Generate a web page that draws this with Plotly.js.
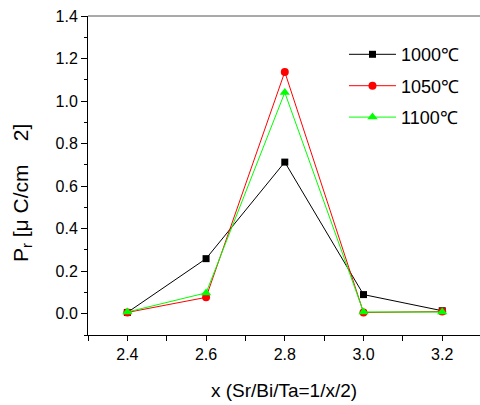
<!DOCTYPE html>
<html>
<head>
<meta charset="utf-8">
<script src="https://cdn.plot.ly/plotly-3.0.1.min.js"></script>
<style>
  html, body { margin: 0; padding: 0; background: #fff; }
  #chart { width: 480px; height: 405px; }
</style>
</head>
<body>
<div id="chart"></div>
<script>
// Sr/Bi/Ta = 1/x/2 composition
const xValues = [2.4, 2.6, 2.8, 3.0, 3.2];

// Remanent polarization Pr (μC/cm²) per sintering temperature
const pr1000 = [0.006, 0.259, 0.713, 0.090, 0.014];
const pr1050 = [0.006, 0.077, 1.137, 0.006, 0.010];
const pr1100 = [0.008, 0.098, 1.040, 0.008, 0.008];

const seriesNames = ['1000\u2103', '1050\u2103', '1100\u2103'];

const xTickVals = [2.4, 2.6, 2.8, 3.0, 3.2];
const xTickText = ['2.4', '2.6', '2.8', '3.0', '3.2'];
const yTickVals = [0, 0.2, 0.4, 0.6, 0.8, 1.0, 1.2, 1.4];
const yTickText = ['0.0', '0.2', '0.4', '0.6', '0.8', '1.0', '1.2', '1.4'];

const FONT = '"Liberation Sans", Arial, sans-serif';

const traces = [
  {
    x: xValues, y: pr1000, name: seriesNames[0], legendgroup: 'a',
    mode: 'lines+markers', type: 'scatter',
    line: { color: '#000000', width: 1 },
    marker: { symbol: 'square', size: 7, color: '#000000' }
  },
  {
    x: xValues, y: pr1050, name: seriesNames[1], legendgroup: 'b',
    mode: 'lines+markers', type: 'scatter',
    line: { color: '#ff0000', width: 1 },
    marker: { symbol: 'circle', size: 8, color: '#ff0000' }
  },
  {
    x: xValues, y: pr1100, name: seriesNames[2], legendgroup: 'c',
    mode: 'lines+markers', type: 'scatter',
    line: { color: '#00ff00', width: 1 },
    marker: { symbol: 'triangle-up', size: 9, color: '#00ff00' }
  }
];

const layout = {
  width: 480,
  height: 405,
  margin: { l: 88, r: 0, t: 16, b: 70 },
  paper_bgcolor: '#ffffff',
  plot_bgcolor: '#ffffff',
  font: { family: FONT, size: 16, color: '#000000' },
  showlegend: true,
  legend: {
    x: 0.653, y: 0.937, xanchor: 'left', yanchor: 'top',
    font: { family: FONT, size: 18, color: '#000000' },
    bgcolor: 'rgba(0,0,0,0)',
    traceorder: 'grouped',
    tracegroupgap: 5,
    itemwidth: 47
  },
  xaxis: {
    range: [2.3, 3.296],
    tickvals: xTickVals,
    ticktext: xTickText,
    ticks: 'outside', ticklen: 5, tickwidth: 1, tickcolor: '#000',
    minor: { dtick: 0.1, tick0: 2.3, ticks: 'outside', ticklen: 5, tickwidth: 1, tickcolor: '#000', showgrid: false },
    showgrid: false, zeroline: false,
    showline: true, linecolor: '#000', linewidth: 1, mirror: false,
    tickfont: { family: FONT, size: 16 },
    title: { text: 'x (Sr/Bi/Ta=1/x/2)', font: { family: FONT, size: 19 }, standoff: 21 }
  },
  yaxis: {
    range: [-0.1, 1.4],
    tickvals: yTickVals,
    ticktext: yTickText,
    ticks: 'outside', ticklen: 6, tickwidth: 1, tickcolor: '#000',
    minor: { dtick: 0.1, tick0: -0.1, ticks: 'outside', ticklen: 3, tickwidth: 1, tickcolor: '#000', showgrid: false },
    showgrid: false, zeroline: false,
    showline: true, linecolor: '#000', linewidth: 1, mirror: false,
    tickfont: { family: FONT, size: 16 }
  },
  annotations: [
    {
      // y-axis title, set slightly below the axis centre
      text: 'P<sub>r</sub> [\u03bc C/cm\u00a0\u00a0\u00a0\u00a02]',
      xref: 'paper', yref: 'paper', x: 0, y: 0.445,
      xanchor: 'center', yanchor: 'middle', xshift: -66,
      textangle: -90, showarrow: false,
      font: { family: FONT, size: 21, color: '#000' }
    }
  ],
  shapes: [
    { type: 'line', xref: 'paper', yref: 'paper', x0: 0, x1: 1, y0: 1, y1: 1,
      line: { color: '#555555', width: 1 } }
  ]
};

Plotly.newPlot('chart', traces, layout, { displayModeBar: false, staticPlot: true });
</script>
</body>
</html>
